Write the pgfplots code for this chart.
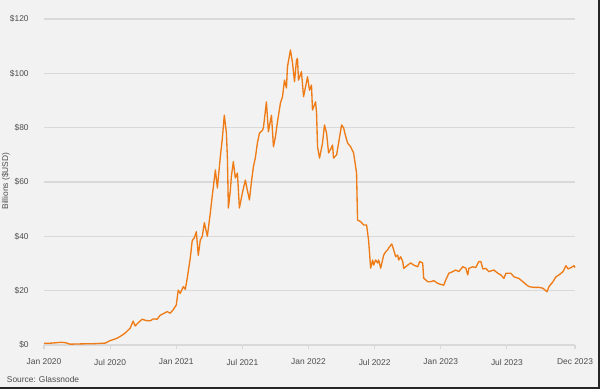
\documentclass[border=0pt]{standalone}
\usepackage{fontspec}
\setmainfont{Liberation Sans}
\usepackage{pgfplots}
\pgfplotsset{compat=1.18}
\definecolor{bgc}{HTML}{F2F2F2}
\definecolor{gridc}{HTML}{D9D9D9}
\definecolor{linec}{HTML}{EF7B16}
\definecolor{txtc}{HTML}{4D4D4D}
\begin{document}
\begin{tikzpicture}
\fill[bgc] (0,0) rectangle (450pt,291.75pt);
\begin{axis}[
  at={(33pt,33pt)}, anchor=south west,
  scale only axis, width=398.25pt, height=244.5pt,
  xmin=0, xmax=48.18, ymin=0, ymax=120,
  axis x line*=bottom, axis y line*=left,
  x axis line style={draw=gridc, line width=0.8pt, -},
  y axis line style={draw=none},
  xtick={0,6,12,18,24,30,36,42,48.18},
  xticklabels={Jan 2020,Jul 2020,Jan 2021,Jul 2021,Jan 2022,Jul 2022,Jan 2023,Jul 2023,Dec 2023},
  ytick={0,20,40,60,80,100,120},
  yticklabels={\$0,\$20,\$40,\$60,\$80,\$100,\$120},
  ymajorgrids, grid style={draw=gridc, line width=0.8pt},
  tick align=outside, major tick length=3pt,
  xtick style={draw=gridc, line width=0.8pt},
  ytick style={draw=none},
  tick label style={font=\fontsize{6.3}{7}\selectfont, text=txtc},
  xticklabel style={yshift=-4pt},
  yticklabel style={xshift=-5pt},
  clip=false,
]
\addplot[linec, line width=1pt, line join=round] coordinates {
(0.0,0.6)(0.73,0.7)(1.55,1.0)(2.0,0.8)(2.36,0.3)(3.27,0.4)(4.64,0.5)(5.55,0.7)
(6.0,1.6)(6.64,2.5)(7.09,3.6)(7.36,4.4)(7.82,6.2)(8.09,8.8)(8.27,7.0)(8.55,8.2)
(8.91,9.5)(9.27,9.0)(9.64,8.9)(9.91,9.6)(10.27,9.5)(10.55,11.0)(10.82,11.5)(11.18,12.3)
(11.45,11.7)(11.73,13.0)(12.0,14.7)(12.18,20.2)(12.36,19.0)(12.64,21.5)(12.82,20.5)(13.0,24.6)
(13.27,32.0)(13.45,38.4)(13.64,39.5)(13.82,41.7)(14.0,33.0)(14.18,38.6)(14.36,40.0)(14.55,45.0)
(14.82,40.0)(15.09,48.6)(15.27,55)(15.55,64.4)(15.73,57.8)(16.0,69.3)(16.18,76)(16.36,84.6)
(16.55,78)(16.64,69)(16.73,50.4)(16.91,57)(17.0,62)(17.18,67.5)(17.36,61.5)(17.55,63.3)
(17.73,50.4)(18.0,56)(18.27,60.7)(18.45,57)(18.64,53.4)(18.82,60)(19.0,65.6)(19.18,69)
(19.36,74.3)(19.55,78)(19.82,79)(19.91,80)(20.18,89.5)(20.36,78.5)(20.64,84.6)(20.82,73)
(21.0,76.7)(21.18,82)(21.45,89)(21.64,91.4)(21.82,97.5)(22.0,94.6)(22.09,102.4)(22.36,108.6)
(22.55,103.8)(22.73,96.9)(22.91,104.9)(23.0,105.5)(23.09,97.5)(23.36,100.6)(23.55,91.4)(23.73,95)
(23.91,98.7)(24.09,93.8)(24.27,95.7)(24.36,86.5)(24.64,89.5)(24.73,85.4)(24.82,73)(25.0,68.8)
(25.27,74.3)(25.45,81)(25.64,78)(25.82,70.7)(26.0,72)(26.18,73.6)(26.27,68.8)(26.55,70)
(26.73,74.3)(27.0,81)(27.18,80)(27.36,77)(27.55,74.3)(27.82,73)(28.09,70.7)(28.36,63.3)
(28.45,46)(28.73,45.4)(29.0,44.2)(29.27,44.2)(29.45,38.6)
(29.64,28.3)(29.82,31.3)(29.91,29.4)(30.09,31.3)(30.27,30.2)(30.36,31.3)(30.55,28.3)(30.82,33.1)
(31.0,34.3)(31.18,35.0)(31.27,35.7)(31.55,37.2)(31.73,35.0)(31.91,32.5)(32.09,33.1)(32.18,31.3)
(32.36,32.5)(32.55,30.7)(32.64,28.2)(33.0,29.4)(33.27,30.2)(33.55,29.4)(33.91,28.8)(34.09,30.7)
(34.36,30.2)(34.45,24.6)(34.82,23.3)(35.09,23.3)(35.36,23.7)(35.73,22.7)(36.0,22.3)(36.27,22.0)
(36.45,23.9)(36.73,26.4)(37.09,27.0)(37.36,27.6)(37.64,27.0)(38.0,28.8)(38.27,28.3)(38.45,25.8)
(38.55,28.2)(38.91,28.8)(39.18,28.5)(39.45,30.7)(39.64,30.7)(39.82,28.0)(40.09,28.2)(40.36,27.0)
(40.82,27.6)(41.18,26.4)(41.45,25.8)(41.73,24.5)(41.91,26.4)(42.36,26.4)(42.64,25.1)(43.09,24.5)
(43.45,23.3)(43.73,22.3)(44.0,21.5)(44.45,21.2)(44.91,21.2)(45.27,20.9)(45.64,19.6)(45.82,21.5)
(46.18,23.3)(46.45,25.1)(46.73,25.8)(47.09,27.0)(47.36,29.2)(47.55,28.0)(47.82,28.5)(48.09,29.2)
(48.18,28.5)
};
\end{axis}
\node[rotate=90, font=\fontsize{6.3}{7}\selectfont, text=txtc] at (4.5pt,156pt) {Billions (\$USD)};
\node[anchor=west, inner sep=0pt, font=\fontsize{6.3}{7}\selectfont, text=txtc] at (5pt,7.5pt) {Source: Glassnode};
\draw[black!85, line width=1.2pt] (0,0.6pt) -- (449.4pt,0.6pt) -- (449.4pt,291.75pt);
\pgfresetboundingbox
\useasboundingbox (0,0) rectangle (450pt,291.75pt);
\end{tikzpicture}
\end{document}
